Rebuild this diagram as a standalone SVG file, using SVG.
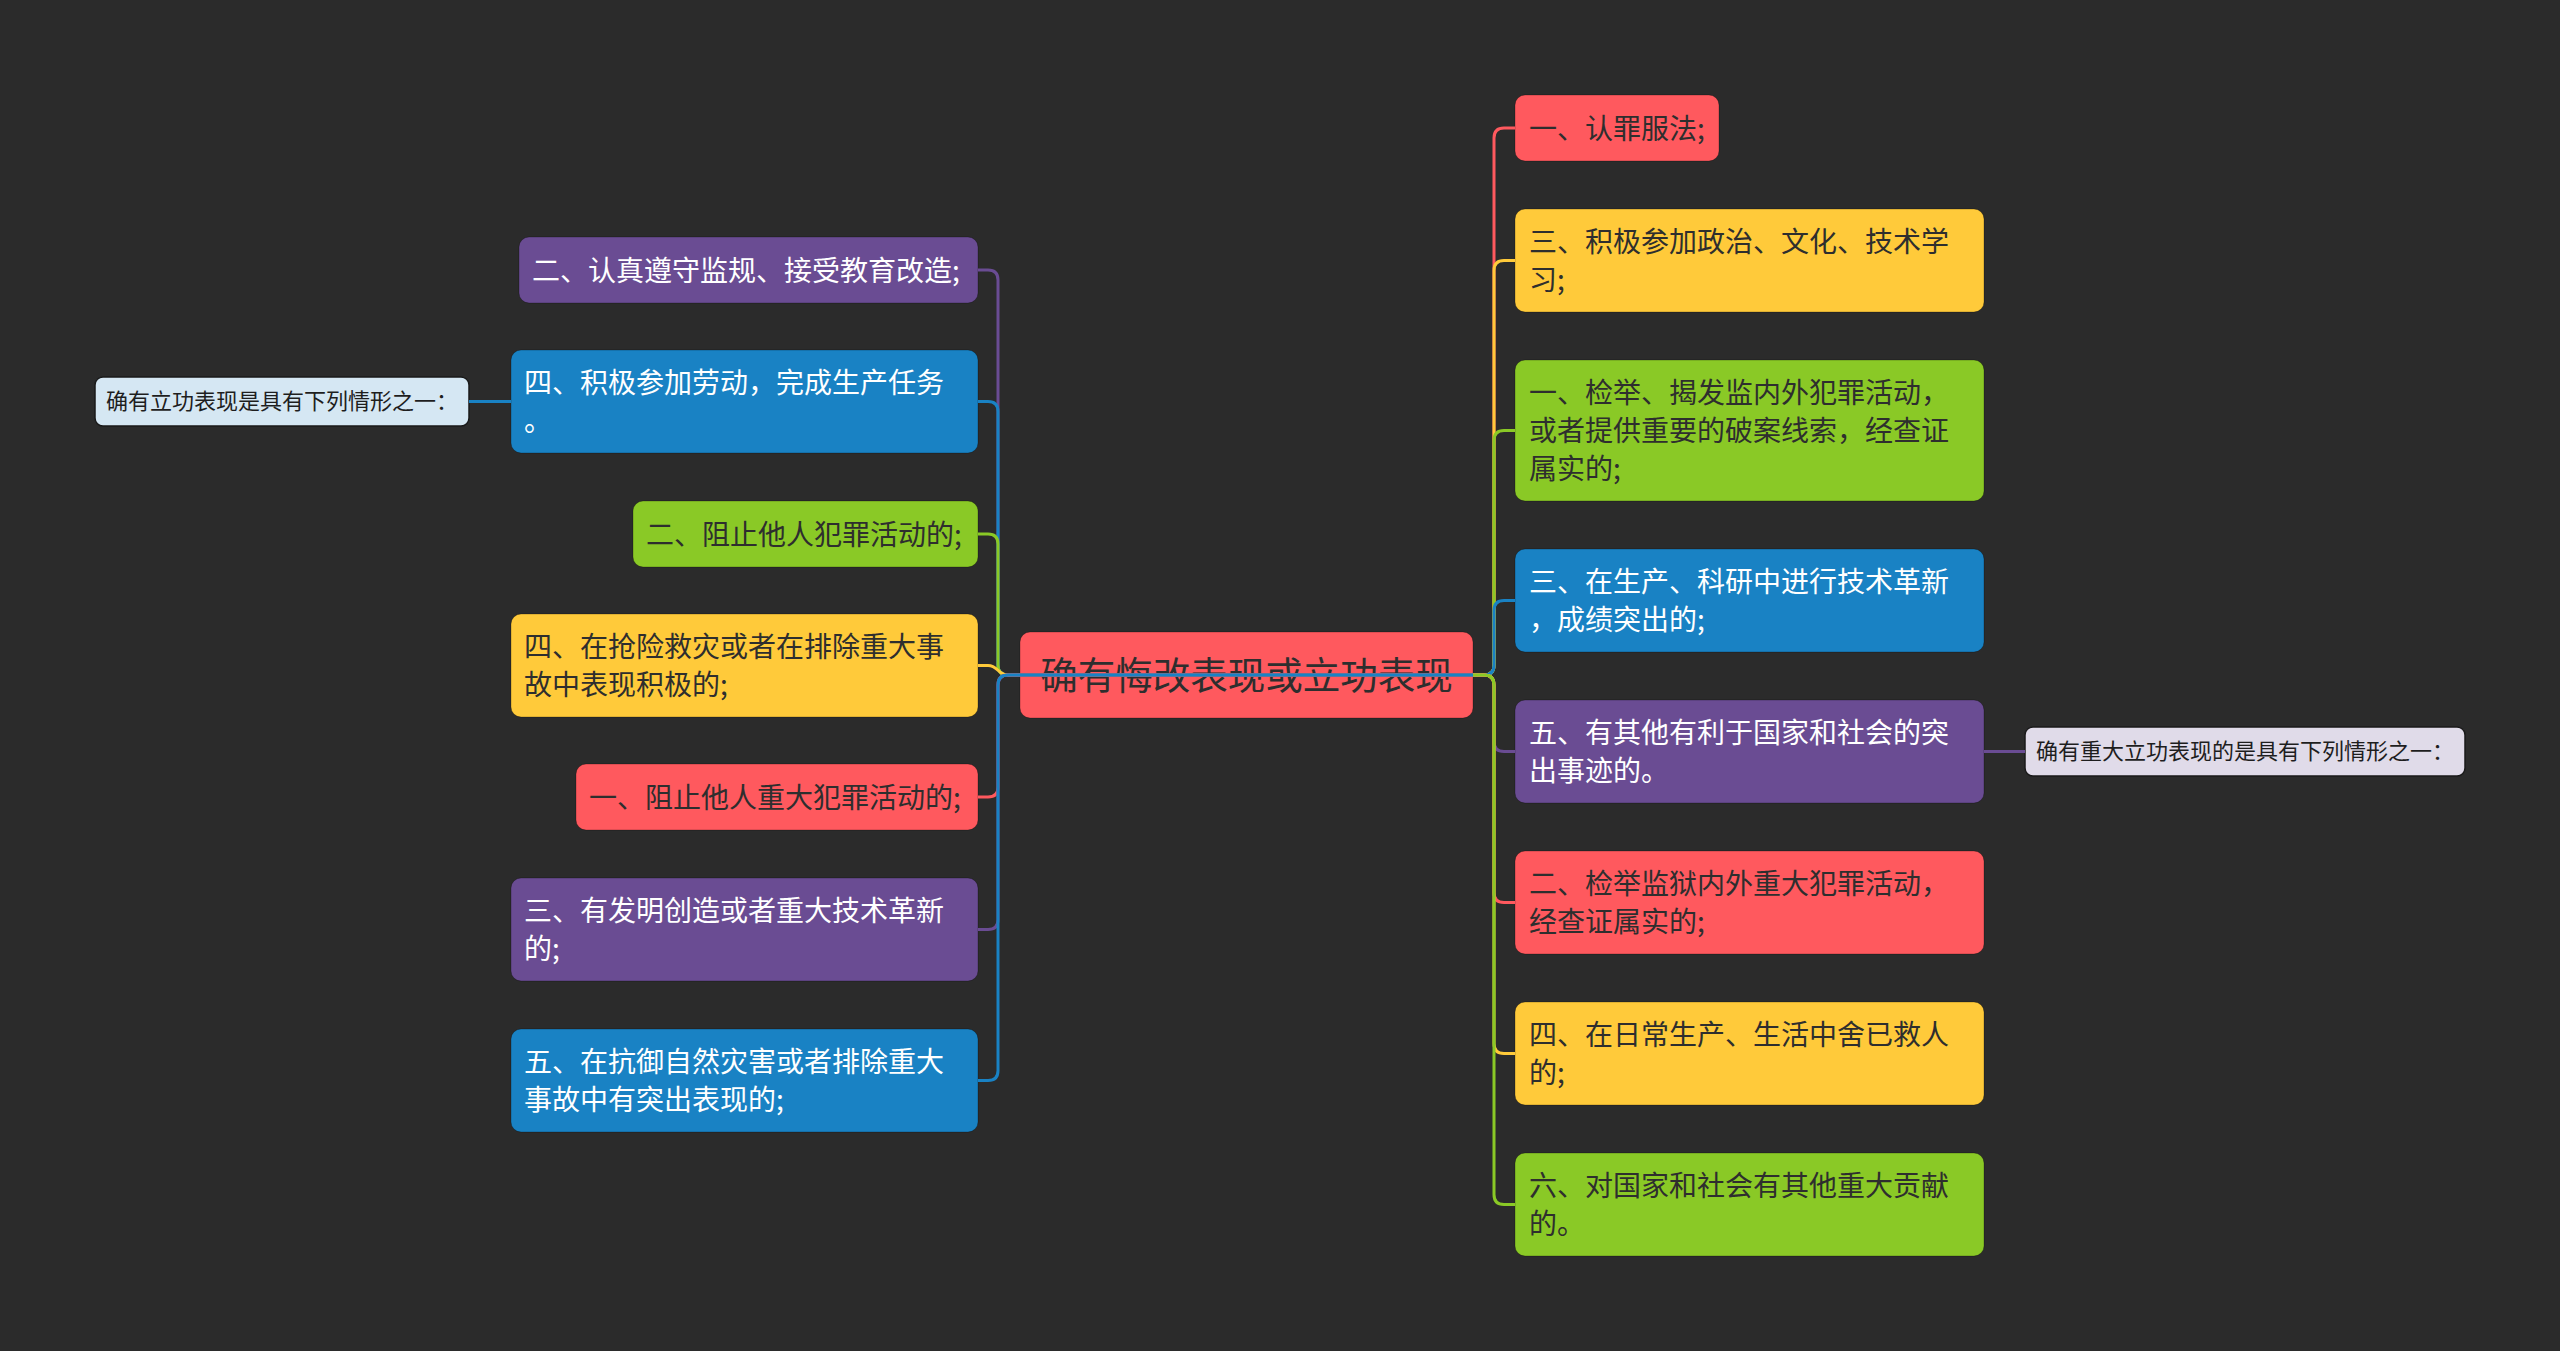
<svg xmlns="http://www.w3.org/2000/svg" width="2560" height="1351" viewBox="0 0 2560 1351">
<style>
.t{font-family:"Noto Sans CJK SC","Noto Sans",sans-serif;font-size:28px}
.w{fill:#ffffff}
.d{fill:#2e2e2e}
.n{stroke:rgba(0,0,0,0.25);stroke-width:1}
.red{fill:#ff595e}.yel{fill:#ffca3a}.grn{fill:#8ac926}.blu{fill:#1982c4}.pur{fill:#6a4c93}
.c{fill:none;stroke-width:3}
.cr{stroke:#ff595e}.cy{stroke:#ffca3a}.cg{stroke:#8ac926}.cb{stroke:#1982c4}.cp{stroke:#6a4c93}
.leaf{font-family:"Noto Sans CJK SC","Noto Sans",sans-serif;font-size:22px;fill:#1e1e1e}
</style>
<rect x="0" y="0" width="2560" height="1351" fill="#2b2b2b"/>
<g id="nodes">
<g id="root"><rect class="red n" x="1020" y="632" width="453" height="86" rx="10"/><text class="t d" x="1246.5" y="689" style="font-size:37.5px" text-anchor="middle">确有悔改表现或立功表现</text></g>
<g id="L1"><rect class="pur n" x="519" y="237" width="459" height="66" rx="10"/><text class="t w" x="532" y="281">二、认真遵守监规、接受教育改造;</text></g>
<g id="L2"><rect class="blu n" x="511" y="350" width="467" height="103" rx="10"/><text class="t w" x="524" y="393">四、积极参加劳动，完成生产任务</text><text class="t w" x="524" y="431">。</text></g>
<g id="L3"><rect class="grn n" x="633" y="501" width="345" height="66" rx="10"/><text class="t d" x="646" y="545">二、阻止他人犯罪活动的;</text></g>
<g id="L4"><rect class="yel n" x="511" y="614" width="467" height="103" rx="10"/><text class="t d" x="524" y="657">四、在抢险救灾或者在排除重大事</text><text class="t d" x="524" y="695">故中表现积极的;</text></g>
<g id="L5"><rect class="red n" x="576" y="764" width="402" height="66" rx="10"/><text class="t d" x="589" y="808">一、阻止他人重大犯罪活动的;</text></g>
<g id="L6"><rect class="pur n" x="511" y="878" width="467" height="103" rx="10"/><text class="t w" x="524" y="921">三、有发明创造或者重大技术革新</text><text class="t w" x="524" y="959">的;</text></g>
<g id="L7"><rect class="blu n" x="511" y="1029" width="467" height="103" rx="10"/><text class="t w" x="524" y="1072">五、在抗御自然灾害或者排除重大</text><text class="t w" x="524" y="1110">事故中有突出表现的;</text></g>
<g id="LL"><rect x="95" y="377" width="374" height="49" rx="8" fill="#d5e7f3" stroke="#1a1a1a" stroke-width="1.5"/><text class="leaf" x="106" y="409">确有立功表现是具有下列情形之一：</text></g>
<g id="R1"><rect class="red n" x="1515" y="95" width="204" height="66" rx="10"/><text class="t d" x="1529" y="139">一、认罪服法;</text></g>
<g id="R2"><rect class="yel n" x="1515" y="209" width="469" height="103" rx="10"/><text class="t d" x="1529" y="252">三、积极参加政治、文化、技术学</text><text class="t d" x="1529" y="290">习;</text></g>
<g id="R3"><rect class="grn n" x="1515" y="360" width="469" height="141" rx="10"/><text class="t d" x="1529" y="403">一、检举、揭发监内外犯罪活动，</text><text class="t d" x="1529" y="441">或者提供重要的破案线索，经查证</text><text class="t d" x="1529" y="479">属实的;</text></g>
<g id="R4"><rect class="blu n" x="1515" y="549" width="469" height="103" rx="10"/><text class="t w" x="1529" y="592">三、在生产、科研中进行技术革新</text><text class="t w" x="1529" y="630">，成绩突出的;</text></g>
<g id="R5"><rect class="pur n" x="1515" y="700" width="469" height="103" rx="10"/><text class="t w" x="1529" y="743">五、有其他有利于国家和社会的突</text><text class="t w" x="1529" y="781">出事迹的。</text></g>
<g id="R6"><rect class="red n" x="1515" y="851" width="469" height="103" rx="10"/><text class="t d" x="1529" y="894">二、检举监狱内外重大犯罪活动，</text><text class="t d" x="1529" y="932">经查证属实的;</text></g>
<g id="R7"><rect class="yel n" x="1515" y="1002" width="469" height="103" rx="10"/><text class="t d" x="1529" y="1045">四、在日常生产、生活中舍已救人</text><text class="t d" x="1529" y="1083">的;</text></g>
<g id="R8"><rect class="grn n" x="1515" y="1153" width="469" height="103" rx="10"/><text class="t d" x="1529" y="1196">六、对国家和社会有其他重大贡献</text><text class="t d" x="1529" y="1234">的。</text></g>
<g id="RL"><rect x="2025" y="727" width="440" height="49" rx="8" fill="#e0dbe9" stroke="#1a1a1a" stroke-width="1.5"/><text class="leaf" x="2036" y="759">确有重大立功表现的是具有下列情形之一：</text></g>
</g>
<g id="connectors">
<path class="c cp" d="M1473 675 H1008 Q998 675 998 665 V280 Q998 270 988 270 H978"/>
<path class="c cb" d="M1473 675 H1008 Q998 675 998 665 V411.5 Q998 401.5 988 401.5 H978"/>
<path class="c cg" d="M1473 675 H1008 Q998 675 998 665 V544 Q998 534 988 534 H978"/>
<path class="c cy" d="M1473 675 H1008 C998 675 998 665.5 988 665.5 H978"/>
<path class="c cr" d="M1473 675 H1008 Q998 675 998 685 V787 Q998 797 988 797 H978"/>
<path class="c cp" d="M1473 675 H1008 Q998 675 998 685 V919.5 Q998 929.5 988 929.5 H978"/>
<path class="c cb" d="M1473 675 H1008 Q998 675 998 685 V1070.5 Q998 1080.5 988 1080.5 H978"/>
<path class="c cb" d="M511 401.5 H469"/>
<path class="c cr" d="M1473 675 H1484 Q1494 675 1494 665 V138 Q1494 128 1504 128 H1515"/>
<path class="c cy" d="M1473 675 H1484 Q1494 675 1494 665 V270.5 Q1494 260.5 1504 260.5 H1515"/>
<path class="c cg" d="M1473 675 H1484 Q1494 675 1494 665 V440.5 Q1494 430.5 1504 430.5 H1515"/>
<path class="c cb" d="M1473 675 H1484 Q1494 675 1494 665 V610.5 Q1494 600.5 1504 600.5 H1515"/>
<path class="c cp" d="M1473 675 H1484 Q1494 675 1494 685 V741.5 Q1494 751.5 1504 751.5 H1515"/>
<path class="c cr" d="M1473 675 H1484 Q1494 675 1494 685 V892.5 Q1494 902.5 1504 902.5 H1515"/>
<path class="c cy" d="M1473 675 H1484 Q1494 675 1494 685 V1043.5 Q1494 1053.5 1504 1053.5 H1515"/>
<path class="c cg" d="M1473 675 H1484 Q1494 675 1494 685 V1194.5 Q1494 1204.5 1504 1204.5 H1515"/>
<path class="c cp" d="M1984 751.5 H2025"/>
</g>
</svg>
